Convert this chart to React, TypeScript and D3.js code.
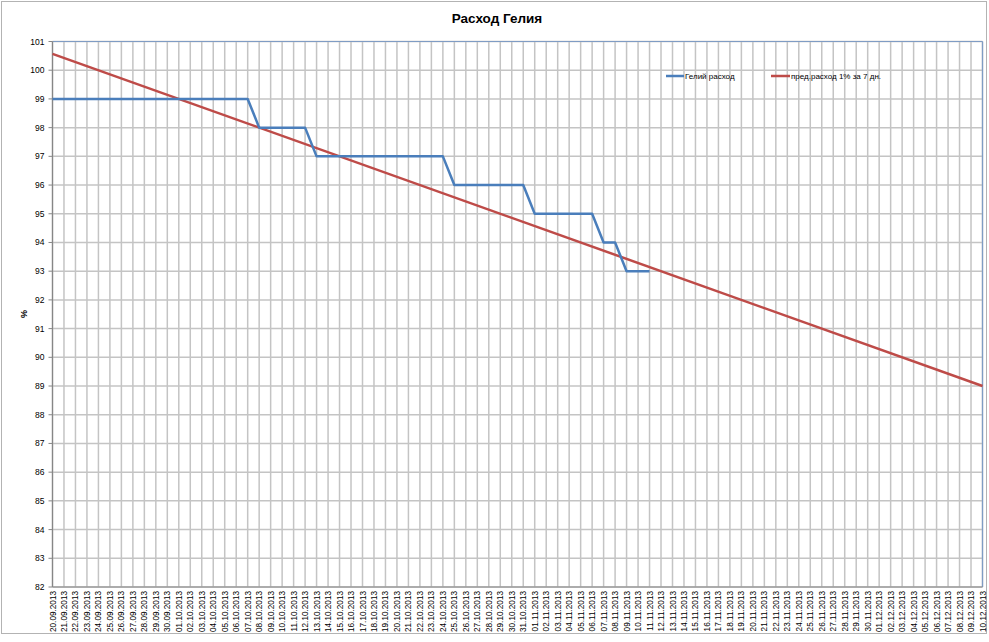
import React from "react";
import * as d3 from "d3";

const W = 989;
const H = 642;

const title = "Расход Гелия";
const yLabel = "%";
const seriesNames = ["Гелий расход", "пред.расход 1% за 7 дн."];

// categories: daily dates 20.09.2013 .. 10.12.2013
const fmt = d3.timeFormat("%d.%m.%Y");
const categories: string[] = d3
  .timeDay.range(new Date(2013, 8, 20), new Date(2013, 11, 11))
  .map((d) => fmt(d));

// helium consumption, % (from 20.09.2013 to 11.11.2013)
const heliumValues: number[] = [
  99, 99, 99, 99, 99, 99, 99, 99, 99, 99, 99, 99, 99, 99, 99, 99, 99, 99,
  98, 98, 98, 98, 98,
  97, 97, 97, 97, 97, 97, 97, 97, 97, 97, 97, 97,
  96, 96, 96, 96, 96, 96, 96,
  95, 95, 95, 95, 95, 95,
  94, 94,
  93, 93, 93,
];

// forecast line (1% per 7 days) endpoints
const forecastDates = ["20.09.2013", "10.12.2013"];
const forecastValues = [100.571, 89.0];

const yTicks = d3.range(82, 102);

export default function App() {
  const left = 52.5;
  const right = 982.5;
  const top = 41.5;
  const bottom = 587;

  const x = d3.scalePoint<string>().domain(categories).range([left, right]);
  const y = d3.scaleLinear().domain([82, 101]).range([bottom, top]);

  const heliumLine = d3
    .line<number>()
    .x((_, i) => x(categories[i]) as number)
    .y((v) => y(v))(heliumValues) as string;

  const forecastLine = d3
    .line<number>()
    .x((_, i) => x(forecastDates[i]) as number)
    .y((v) => y(v))(forecastValues) as string;

  const font = "'Liberation Sans', Arial, sans-serif";

  return (
    <div style={{ position: "absolute", left: 0, top: 0 }}>
      <svg width={W} height={H} style={{ display: "block" }} fontFamily={font}>
        <rect x={0} y={0} width={W} height={H} fill="#fff" />
        <rect x={1.5} y={1.5} width={985} height={632} fill="#fff" stroke="#b3b3b3" strokeWidth={1} />
        <text x={497} y={23} textAnchor="middle" fontSize={13.5} fontWeight="bold" fill="#000">
          {title}
        </text>
        {/* horizontal gridlines */}
        {yTicks.map((t) => (
          <line key={"h" + t} x1={left} x2={right} y1={y(t)} y2={y(t)} stroke="#c4c4c4" strokeWidth={1.5} />
        ))}
        {/* vertical gridlines */}
        {categories.map((c) => (
          <line key={"v" + c} x1={x(c)} x2={x(c)} y1={top} y2={bottom} stroke="#c4c4c4" strokeWidth={1.5} />
        ))}
        {/* plot border */}
        <line x1={left} x2={right} y1={top} y2={top} stroke="#7f9cc4" strokeWidth={1.2} />
        <line x1={right} x2={right} y1={top} y2={bottom} stroke="#7f9cc4" strokeWidth={1.2} />
        {/* axes */}
        <line x1={left} x2={left} y1={top} y2={bottom} stroke="#868686" strokeWidth={1.2} />
        <line x1={left} x2={right} y1={bottom} y2={bottom} stroke="#868686" strokeWidth={1.2} />
        {yTicks.map((t) => (
          <line key={"yt" + t} x1={left - 4} x2={left} y1={y(t)} y2={y(t)} stroke="#868686" />
        ))}
        {yTicks.map((t) => (
          <text key={"yl" + t} x={44.5} y={y(t) + 3} textAnchor="end" fontSize={8.5} fill="#000">
            {t}
          </text>
        ))}
        {categories.map((c) => (
          <text
            key={"xl" + c}
            transform={`translate(${(x(c) as number) + 3},${bottom + 4}) rotate(-90)`}
            textAnchor="end"
            fontSize={8.2}
            fill="#000"
          >
            {c}
          </text>
        ))}
        <text transform={`translate(27,314) rotate(-90)`} textAnchor="middle" fontSize={9} fontWeight="bold" fill="#000">
          {yLabel}
        </text>
        {/* series */}
        <path d={forecastLine} fill="none" stroke="#be4b48" strokeWidth={2.5} />
        <path d={heliumLine} fill="none" stroke="#4a7ebb" strokeWidth={2.5} strokeLinejoin="round" />
        {/* legend */}
        <line x1={666} x2={684} y1={76} y2={76} stroke="#4a7ebb" strokeWidth={2.5} />
        <text x={685} y={79} fontSize={8} fill="#000">{seriesNames[0]}</text>
        <line x1={771} x2={790} y1={76} y2={76} stroke="#be4b48" strokeWidth={2.5} />
        <text x={791} y={79} fontSize={8} fill="#000">{seriesNames[1]}</text>
      </svg>
    </div>
  );
}
